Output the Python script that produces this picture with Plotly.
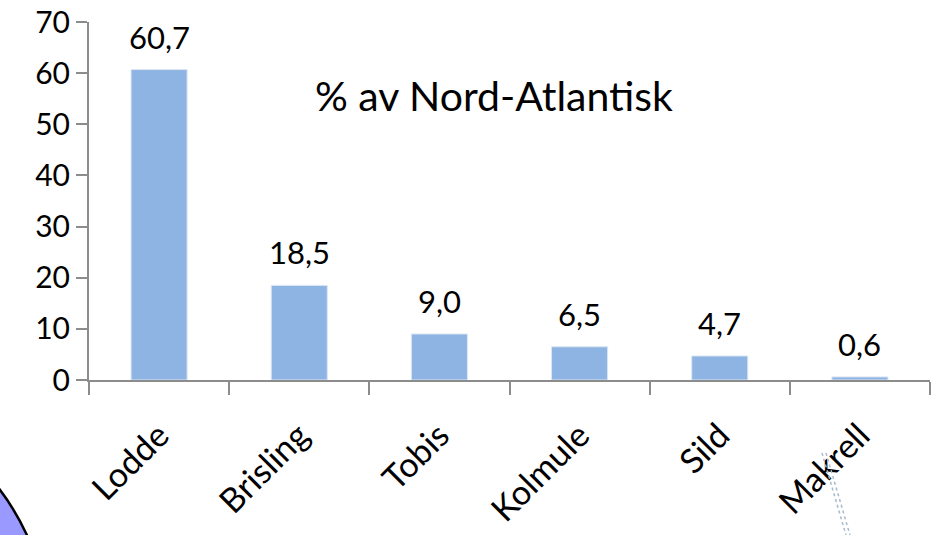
import plotly.graph_objects as go

categories = ["Lodde", "Brisling", "Tobis", "Kolmule", "Sild", "Makrell"]
values = [60.7, 18.5, 9.0, 6.5, 4.7, 0.6]
labels = [f"{v:.1f}".replace(".", ",") for v in values]
y_ticks = [0, 10, 20, 30, 40, 50, 60, 70]
title_text = "% av Nord-Atlantisk"

W, H = 936, 535
ML, MR, MT, MB = 89, 6, 22, 155
PW, PH = W - ML - MR, H - MT - MB


def px(x):
    """page pixel x -> paper x"""
    return (x - ML) / PW


def py(y):
    """page pixel y -> paper y"""
    return (H - MB - y) / PH


FONT = "Lato"

fig = go.Figure(
    go.Bar(
        x=categories,
        y=values,
        marker=dict(color="#8EB4E3", line=dict(color="#DCE6F2", width=1)),
        hoverinfo="x+y",
    )
)

for c, v, t in zip(categories, values, labels):
    fig.add_annotation(
        x=c,
        y=v,
        text=t,
        showarrow=False,
        xanchor="center",
        yanchor="middle",
        yshift=33,
        font=dict(family=FONT, size=31, color="black"),
    )

fig.update_layout(
    width=W,
    height=H,
    autosize=False,
    margin=dict(l=ML, r=MR, t=MT, b=MB, autoexpand=False),
    paper_bgcolor="white",
    plot_bgcolor="white",
    bargap=0.6,
    showlegend=False,
    font=dict(family=FONT, color="black"),
)

fig.update_xaxes(
    automargin=False,
    showline=True,
    linecolor="#8C8C8C",
    linewidth=2,
    ticks="outside",
    tickson="boundaries",
    ticklen=13,
    tickwidth=2,
    tickcolor="#8C8C8C",
    tickangle=-45,
    ticklabelstandoff=20,
    tickfont=dict(family=FONT, size=34, color="black"),
    showgrid=False,
)

fig.update_yaxes(
    automargin=False,
    range=[0, 70],
    tickvals=y_ticks,
    showline=True,
    linecolor="#8C8C8C",
    linewidth=2,
    ticks="outside",
    ticklen=11,
    tickwidth=2,
    tickcolor="#8C8C8C",
    tickfont=dict(family=FONT, size=30, color="black"),
    showgrid=False,
    zeroline=False,
)

fig.add_annotation(
    text=title_text,
    xref="paper",
    yref="paper",
    x=px(494),
    y=py(95),
    xanchor="center",
    yanchor="middle",
    showarrow=False,
    font=dict(family=FONT, size=41, color="black"),
)

# decorative remnants from the slide
cx, cy, r = -200, 640, 250
fig.add_shape(
    type="circle",
    xref="paper",
    yref="paper",
    x0=px(cx - r),
    x1=px(cx + r),
    y0=py(cy + r),
    y1=py(cy - r),
    fillcolor="#9999FF",
    line=dict(color="black", width=2.5),
    layer="above",
)
for dx in (0, 4):
    fig.add_shape(
        type="line",
        xref="paper",
        yref="paper",
        x0=px(822 + dx),
        y0=py(453),
        x1=px(846 + dx),
        y1=py(535),
        line=dict(color="#A8BACB", width=1.5, dash="dot"),
    )

fig.write_html(
    "out.html",
    config={"displayModeBar": False},
    post_script="document.body.style.margin='0';document.body.style.overflow='hidden';",
)
